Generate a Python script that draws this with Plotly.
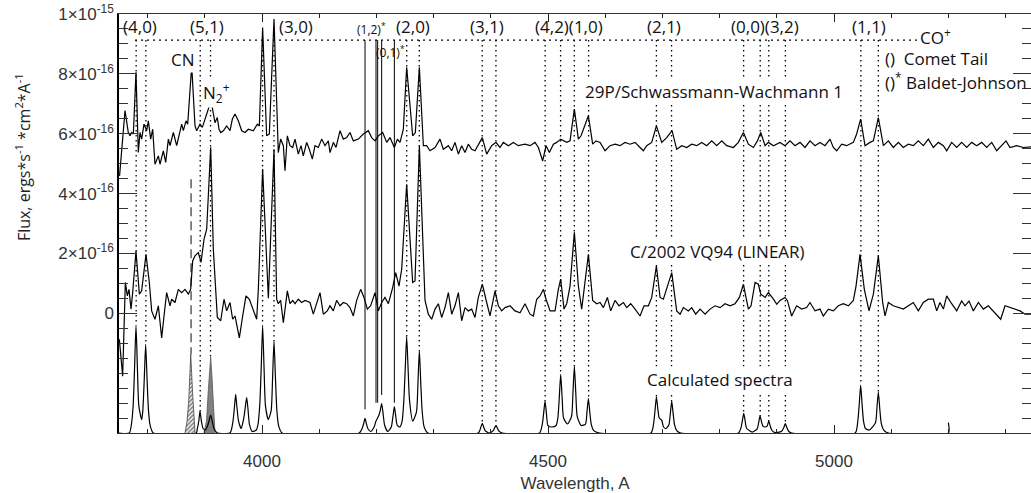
import plotly.graph_objects as go

# ---------------- data (flux in units of 1e-16 erg s^-1 cm^-2 A^-1) ----------------
spec_29p = [
    (3751, 4.59), (3760.5, 6.77), (3766.3, 6.04), (3769.2, 5.93), (3772.1, 6.04), (3775.1, 5.99),
    (3779.7, 8.05), (3783.8, 5.37), (3786.7, 6.04), (3789.6, 5.82), (3793.7, 6.32), (3798.4, 6.10),
    (3801.3, 6.43), (3805.4, 5.82), (3808.9, 6.15), (3812.9, 4.98), (3818.8, 5.26), (3821.7, 4.98),
    (3827.5, 5.43), (3831.6, 5.04), (3836.3, 5.82), (3839.2, 5.60), (3845.0, 6.04), (3850.8, 5.60),
    (3859.6, 6.32), (3862.5, 6.10), (3867.1, 6.43), (3870.1, 6.32), (3877.1, 8.27), (3882.9, 6.26),
    (3885.8, 6.10), (3891.6, 6.32), (3895.7, 6.21), (3900.4, 6.49), (3903.3, 6.71), (3910.9, 7.10),
    (3917.8, 6.37), (3921.9, 6.54), (3924.8, 6.15), (3927.8, 6.04), (3932.4, 6.10), (3938.2, 6.26),
    (3944.1, 6.10), (3948.2, 6.49), (3952.8, 6.66), (3958.6, 6.43), (3964.5, 6.10), (3970.3, 6.04),
    (3976.1, 6.15), (3984.9, 6.10), (3991.9, 6.32), (3995.4, 6.26), (4001.1, 9.55), (4008.1, 5.93),
    (4012.8, 5.99), (4021.0, 9.83), (4028.5, 5.37), (4032.6, 5.82), (4037.3, 5.60), (4040.2, 4.76),
    (4044.3, 5.93), (4048.9, 5.60), (4053.6, 5.54), (4057.7, 5.82), (4063.5, 5.32), (4068.2, 5.60),
    (4072.2, 5.26), (4078.1, 5.71), (4082.7, 5.48), (4088.0, 5.15), (4092.6, 5.60), (4098.5, 5.54),
    (4104.3, 5.82), (4110.1, 5.60), (4116.0, 5.76), (4118.9, 5.37), (4124.7, 5.71), (4129.4, 5.54),
    (4136.4, 6.10), (4142.2, 5.82), (4148.0, 5.87), (4153.8, 6.04), (4159.7, 5.76), (4168.4, 5.82),
    (4177.2, 5.99), (4185.9, 6.10), (4191.7, 5.87), (4197.6, 5.76), (4203.4, 5.93), (4211.0, 6.04),
    (4218.0, 5.71), (4223.8, 5.87), (4231.4, 5.54), (4236.6, 5.82), (4241.3, 5.71), (4247.1, 6.15),
    (4252.9, 8.22), (4263.4, 5.93), (4268.1, 6.04), (4275.1, 8.22), (4282.1, 5.60), (4287.9, 5.60),
    (4293.7, 5.43), (4302.5, 5.54), (4311.2, 5.82), (4317.0, 5.48), (4325.8, 5.60), (4331.6, 5.43),
    (4337.4, 5.71), (4343.3, 5.32), (4349.1, 5.60), (4354.9, 5.37), (4360.7, 5.65), (4366.6, 5.48),
    (4372.4, 5.43), (4378.2, 5.65), (4385.2, 5.87), (4392.8, 5.32), (4401.5, 5.60), (4409.1, 5.71),
    (4416.1, 5.54), (4421.9, 5.71), (4430.7, 5.60), (4439.4, 5.71), (4448.2, 5.60), (4459.8, 5.65),
    (4468.6, 5.60), (4477.3, 5.71), (4483.2, 5.54), (4490.7, 5.09), (4496.6, 5.60), (4502.4, 5.37),
    (4509.4, 5.65), (4515.2, 5.71), (4522.2, 5.82), (4532.7, 5.71), (4538.5, 5.76), (4546.1, 6.82),
    (4553.1, 5.82), (4557.8, 5.93), (4570.6, 6.60), (4578.1, 5.65), (4584.0, 5.76), (4591.0, 5.71),
    (4599.7, 5.43), (4608.5, 5.60), (4617.2, 5.65), (4626.0, 5.60), (4634.7, 5.71), (4643.4, 5.65),
    (4652.2, 5.71), (4660.9, 5.54), (4666.7, 5.43), (4672.6, 5.60), (4681.3, 5.71), (4689.5, 6.26),
    (4698.8, 5.71), (4707.5, 5.87), (4716.9, 6.10), (4725.0, 5.48), (4733.8, 5.60), (4742.5, 5.54),
    (4751.2, 5.65), (4760.0, 5.60), (4768.7, 5.71), (4777.5, 5.60), (4786.2, 5.76), (4795.0, 5.60),
    (4803.7, 5.76), (4812.4, 5.60), (4824.1, 5.54), (4832.8, 5.71), (4841.6, 6.04), (4850.3, 5.65),
    (4859.1, 5.54), (4866.1, 5.76), (4871.9, 6.04), (4879.5, 5.60), (4885.3, 5.71), (4894.1, 5.60),
    (4905.6, 5.71), (4914.3, 5.60), (4923.1, 5.76), (4931.8, 5.60), (4940.6, 5.71), (4949.3, 5.54),
    (4958.0, 5.76), (4966.8, 5.60), (4975.5, 5.71), (4984.3, 5.60), (4993.0, 5.82), (4998.8, 5.54),
    (5004.7, 5.43), (5013.4, 5.65), (5022.1, 5.60), (5033.8, 5.71), (5039.6, 5.99), (5046.6, 6.49),
    (5054.2, 5.60), (5062.9, 5.71), (5068.8, 5.76), (5077.5, 6.54), (5086.3, 5.60), (5095.0, 5.76),
    (5103.7, 5.54), (5112.5, 5.71), (5121.2, 5.54), (5130.0, 5.65), (5138.7, 5.60), (5147.4, 5.76),
    (5156.2, 5.60), (5164.9, 5.82), (5173.7, 5.54), (5182.4, 5.71), (5191.2, 5.60), (5197.0, 5.43),
    (5205.7, 5.71), (5214.5, 5.54), (5223.2, 5.71), (5232.0, 5.54), (5240.7, 5.71), (5249.5, 5.60),
    (5258.2, 5.71), (5266.9, 5.54), (5275.7, 5.71), (5284.4, 5.43), (5293.2, 5.60), (5300.7, 5.76),
    (5307.7, 5.54), (5319.4, 5.60), (5331.0, 5.54), (5344.4, 5.56),
]

spec_vq94 = [
    (3750.6, -0.87), (3756.4, -2.10), (3761.1, 1.03), (3764.6, 0.58), (3767.5, 0.80), (3771.0, 0.14),
    (3773.9, 0.69), (3779.7, 2.08), (3785.6, 0.64), (3789.6, 0.75), (3797.2, 1.97), (3803.0, 1.03),
    (3807.1, 0.08), (3812.9, -0.20), (3818.8, 0.25), (3824.6, -0.82), (3828.7, -0.09), (3833.3, 0.69),
    (3839.2, 0.25), (3842.1, 0.47), (3847.9, 0.36), (3853.7, 0.80), (3859.6, 0.69), (3865.4, 0.80),
    (3871.2, 0.64), (3875.3, 0.80), (3878.8, 1.75), (3882.9, 1.92), (3888.7, 2.03), (3893.4, 1.70),
    (3898.6, 2.47), (3903.3, 2.81), (3910.3, 5.55), (3914.9, 2.14), (3921.9, -0.14), (3927.8, -0.25),
    (3933.6, 0.47), (3938.2, 0.08), (3944.1, 0.36), (3948.7, -0.20), (3952.8, -0.09), (3960.4, -0.82),
    (3966.2, -0.09), (3972.0, 0.58), (3977.9, 0.47), (3984.9, 0.08), (3990.7, -0.20), (3993.6, 0.80),
    (4001.1, 4.82), (4011.1, 0.50), (4021.0, 5.48), (4025.6, 0.47), (4028.5, 0.32), (4032.6, 0.43),
    (4037.3, -0.31), (4044.3, 0.75), (4048.9, 0.32), (4053.6, 0.43), (4057.7, 0.32), (4063.5, 0.47),
    (4069.3, 0.36), (4075.2, 0.43), (4083.9, 0.36), (4089.7, -0.03), (4095.6, 0.32), (4101.4, 0.69),
    (4107.2, -0.03), (4114.2, 0.08), (4118.9, 0.25), (4124.7, 0.08), (4130.5, 0.43), (4136.4, 0.25),
    (4142.2, 0.36), (4148.0, 0.32), (4153.8, 0.19), (4159.7, -0.09), (4165.5, 0.43), (4172.5, 0.80),
    (4178.3, 0.53), (4184.2, 0.14), (4190.0, 0.25), (4197.6, 0.69), (4203.4, 0.08), (4209.2, 0.36),
    (4215.0, 0.53), (4220.9, 0.32), (4228.4, 0.86), (4233.7, 1.36), (4239.5, 0.91), (4244.2, 1.47),
    (4252.9, 4.31), (4263.4, 1.03), (4267.5, 1.08), (4275.1, 5.59), (4285.0, 0.43), (4290.8, -0.03),
    (4296.6, -0.20), (4302.5, 0.14), (4308.3, 0.32), (4314.1, -0.14), (4319.9, 0.19), (4325.8, 0.69),
    (4331.6, -0.03), (4337.4, 0.25), (4343.3, 0.69), (4349.1, -0.25), (4354.9, 0.19), (4360.7, 0.08),
    (4366.6, 0.14), (4372.4, -0.14), (4378.2, 0.53), (4385.2, 0.97), (4392.8, 0.36), (4398.6, -0.09),
    (4407.4, 0.75), (4413.2, 0.25), (4419.0, 0.08), (4424.9, 0.19), (4433.6, 0.25), (4442.3, 0.08),
    (4451.1, 0.02), (4459.8, 0.32), (4468.6, -0.03), (4474.4, -0.09), (4480.2, 0.47), (4486.1, 0.58),
    (4491.9, 0.80), (4496.6, 0.47), (4503.6, 0.08), (4512.3, 0.08), (4518.1, 0.80), (4522.2, 1.14),
    (4528.0, 0.14), (4532.7, 0.32), (4538.5, 0.91), (4546.1, 2.71), (4553.1, 0.91), (4558.9, 0.14),
    (4570.6, 1.97), (4578.1, 0.43), (4585.1, 0.32), (4591.0, 0.36), (4596.8, 0.19), (4603.8, 0.53),
    (4609.6, 0.08), (4617.2, 0.43), (4624.2, 0.25), (4631.8, 0.36), (4637.6, 0.19), (4644.6, 0.32),
    (4652.2, 0.14), (4660.9, -0.09), (4667.9, 0.25), (4675.5, 0.25), (4681.3, 0.53), (4689.5, 1.58),
    (4695.9, 0.53), (4701.7, 0.47), (4716.3, 1.36), (4725.0, 0.08), (4730.9, -0.03), (4736.7, 0.19),
    (4745.4, 0.08), (4751.2, 0.19), (4758.2, -0.03), (4765.8, 0.14), (4774.6, -0.03), (4783.3, 0.14),
    (4792.0, 0.25), (4800.8, 0.19), (4809.5, 0.32), (4818.3, 0.25), (4827.0, 0.32), (4834.6, 0.53),
    (4841.6, 0.97), (4850.3, 0.14), (4855.0, 0.25), (4862.0, 1.03), (4867.8, 0.97), (4871.9, 0.64),
    (4879.5, 0.53), (4885.3, 0.69), (4894.1, 0.47), (4900.0, 0.30), (4905.6, 0.43), (4914.3, 0.53),
    (4918.4, 0.43), (4926.0, -0.09), (4934.7, 0.25), (4943.5, 0.14), (4952.2, 0.19), (4958.0, 0.36),
    (4966.8, 0.08), (4975.5, 0.14), (4981.3, -0.09), (4990.1, 0.14), (4998.8, 0.08), (5007.6, 0.25),
    (5016.3, 0.32), (5025.1, 0.25), (5033.8, 0.43), (5038.5, 0.91), (5045.5, 1.97), (5053.0, 0.80),
    (5061.2, 0.08), (5068.8, 0.64), (5077.5, 1.92), (5085.1, 0.36), (5089.2, -0.09), (5095.0, 0.36),
    (5103.7, 0.25), (5112.5, 0.19), (5121.2, 0.14), (5130.0, 0.25), (5138.7, 0.36), (5147.4, 0.08),
    (5156.2, 0.36), (5164.9, 0.47), (5173.7, 0.47), (5179.5, 0.08), (5185.3, 0.36), (5191.2, 0.14),
    (5197.0, 0.58), (5205.7, 0.32), (5214.5, 0.08), (5223.2, 0.41), (5229.0, 0.25), (5236.0, 0.41),
    (5243.6, 0.08), (5252.4, 0.36), (5261.1, 0.14), (5269.8, 0.25), (5278.6, 0.08), (5284.4, -0.03),
    (5291.4, -0.20), (5299.0, 0.25), (5307.7, 0.19), (5316.5, 0.14), (5325.2, 0.08), (5334.0, -0.03),
    (5344.4, -0.03),
]

spec_calc = [
    (3750, -4.0), (3768, -4.0), (3771.7, -3.71), (3774.7, -3.1), (3777.2, -1.84), (3779.7, -0.40),
    (3782.2, -1.84), (3784.7, -3.1), (3789.6, -3.55), (3791.6, -3.26), (3794.1, -2.22), (3796.6, -1.04),
    (3799.1, -2.22), (3801.6, -3.26), (3804.6, -3.76), (3810, -4.0), (3885, -4.0), (3887, -3.85),
    (3889.5, -3.6), (3891.6, -3.27), (3894, -3.6), (3897, -3.85), (3901, -3.9), (3905, -3.75),
    (3908, -3.55), (3910.3, -3.40), (3913, -3.6), (3916, -3.85), (3922, -4.0), (3944, -4.0),
    (3947, -3.85), (3950, -3.5), (3952, -3.1), (3954, -2.71), (3956, -3.1), (3959, -3.6),
    (3963.6, -3.85), (3966, -3.7), (3969, -3.4), (3971, -3.1), (3973.2, -2.82), (3975.5, -3.2),
    (3978, -3.7), (3983, -3.95), (3990, -3.9), (3993, -3.71), (3996, -3.1), (3998.6, -1.84),
    (4001.1, -0.40), (4003.6, -1.84), (4006.1, -3.1), (4011, -3.55), (4016, -3.25), (4018.5, -2.16),
    (4021, -0.93), (4023.5, -2.16), (4026, -3.25), (4029, -3.75), (4035, -4.0), (4170, -4.0),
    (4175, -3.85), (4177.6, -3.7), (4180.1, -3.51), (4182.6, -3.7), (4185, -3.85), (4190, -3.95),
    (4196, -3.8), (4199.3, -3.6), (4202, -3.5), (4204.5, -3.4), (4206.7, -3.25), (4209.2, -3.02),
    (4211.7, -3.35), (4214.5, -3.75), (4220, -3.95), (4226, -3.8), (4228.9, -3.45), (4231.4, -3.12),
    (4233.9, -3.45), (4236.5, -3.75), (4241, -3.8), (4245, -3.6), (4248, -2.9), (4250.4, -1.85),
    (4252.9, -0.78), (4255.4, -1.85), (4257.9, -2.9), (4263.5, -3.6), (4270, -3.3), (4272.6, -2.35),
    (4275.1, -1.24), (4277.6, -2.35), (4280.1, -3.3), (4283.5, -3.8), (4290, -4.0), (4378, -4.0),
    (4381, -3.9), (4383, -3.78), (4385.2, -3.68), (4387.5, -3.8), (4390, -3.92), (4397, -4.0),
    (4404, -3.92), (4406.6, -3.83), (4409.1, -3.75), (4411.6, -3.84), (4414, -3.93), (4420, -4.0),
    (4485, -4.0), (4489.8, -3.73), (4492.3, -3.36), (4494.8, -2.93), (4497.3, -3.36), (4500, -3.75),
    (4507, -3.8), (4514, -3.75), (4517.2, -3.5), (4519.7, -2.82), (4522.2, -2.04), (4524.7, -2.82),
    (4527.2, -3.5), (4534, -3.7), (4541.1, -3.45), (4543.6, -2.67), (4546.1, -1.78), (4548.6, -2.67),
    (4551.1, -3.45), (4558, -3.75), (4565.6, -3.7), (4568.1, -3.31), (4570.6, -2.85), (4573.1, -3.31),
    (4575.6, -3.7), (4580, -3.92), (4590, -4.0), (4680, -4.0), (4684.5, -3.7), (4687, -3.27),
    (4689.5, -2.79), (4692, -3.2), (4694.5, -3.5), (4698.8, -3.58), (4702, -3.8), (4706, -3.85),
    (4711.3, -3.73), (4713.8, -3.36), (4716.3, -2.93), (4718.8, -3.36), (4721.3, -3.73), (4725, -3.92),
    (4732, -4.0), (4833, -4.0), (4837.2, -3.84), (4839.7, -3.6), (4842.2, -3.34), (4844.7, -3.6),
    (4847.2, -3.84), (4857, -3.97), (4865.7, -3.86), (4868.2, -3.66), (4870.7, -3.43), (4873.2, -3.62),
    (4876, -3.78), (4879, -3.8), (4883.4, -3.76), (4885.9, -3.60), (4888.4, -3.76), (4891, -3.9),
    (4896, -3.98), (4908, -3.95), (4912.4, -3.81), (4914.9, -3.69), (4917.4, -3.81), (4921, -3.95),
    (4926, -4.0), (5037, -4.0), (5041.6, -3.6), (5044.1, -3.04), (5046.6, -2.40), (5049.1, -3.04),
    (5051.6, -3.6), (5055, -3.85), (5062, -3.9), (5072.5, -3.66), (5075, -3.18), (5077.5, -2.63),
    (5080, -3.18), (5082.5, -3.66), (5087, -3.9), (5095, -4.0), (5200, -4.0), (5200, -3.65),
]

# N2+ (filled grey) and CN (hatched) contributions to the calculated spectrum
n2p_band = [(3898.6, -4.0), (3903, -3.6), (3906.2, -2.54), (3908.5, -1.9), (3910.3, -1.47),
            (3912.5, -2.1), (3915, -2.88), (3917.8, -4.0)]
cn_band = [(3865.4, -4.0), (3869, -3.6), (3872, -2.9), (3875.4, -1.37), (3878.5, -2.6), (3882.9, -4.0)]

# CO+ comet-tail band positions (dotted markers) and the calculated peak each one reaches
co_band_wl = [3780, 3797, 3892, 3910, 4001, 4021, 4253, 4275, 4385, 4409, 4495, 4522,
              4546, 4571, 4689.5, 4716, 4842, 4871, 4886, 4915, 5047, 5077.5]
co_band_bottom = [-0.40, -1.04, -3.27, -1.47, -0.40, -0.93, -0.78, -1.24, -3.68, -3.75, -2.93, -2.04,
                  -1.78, -2.85, -2.79, -2.93, -3.34, -3.43, -3.60, -3.69, -2.40, -2.63]
# Baldet-Johnson band positions (solid markers)
bj_band_wl = [4180.1, 4199.3, 4202.2, 4209.2, 4231.4]
bj_band_bottom = [-3.21, -2.99, -2.99, -2.73, -2.99]
marker_top = 9.13
marker_left, marker_right = 3778, 5145
cn_wl, cn_top, cn_bottom = 3876, 4.48, -1.37

band_labels = ["(4,0)", "(5,1)", "(3,0)", "(2,0)", "(3,1)", "(4,2)(1,0)", "(2,1)", "(0,0)(3,2)", "(1,1)"]
band_label_wl = [3786.7, 3903, 4059.5, 4264.5, 4393.4, 4536.7, 4702.8, 4879.4, 5060.7]

y_major = [-4, -2, 0, 2, 4, 6, 8, 10]
y_major_text = ["", "", "0", "2×10<sup>-16</sup>", "4×10<sup>-16</sup>", "6×10<sup>-16</sup>",
                "8×10<sup>-16</sup>", "1×10<sup>-15</sup>"]
x_major = [4000, 4500, 5000]

# ---------------- figure ----------------
def unzip(pairs):
    return [p[0] for p in pairs], [p[1] for p in pairs]

def vsegs(xs, top, bottoms):
    X, Y = [], []
    for x, b in zip(xs, bottoms):
        X += [x, x, None]
        Y += [top, b, None]
    return X, Y

fig = go.Figure()

# marker lines
X, Y = vsegs(co_band_wl, marker_top, co_band_bottom)
fig.add_trace(go.Scatter(x=X, y=Y, mode="lines", line=dict(color="black", width=1.3, dash="1.5px,3.5px"),
                         hoverinfo="skip"))
fig.add_trace(go.Scatter(x=[marker_left, marker_right], y=[marker_top, marker_top], mode="lines",
                         line=dict(color="black", width=1.3, dash="2px,4px"), hoverinfo="skip"))
X, Y = vsegs(bj_band_wl, marker_top, bj_band_bottom)
fig.add_trace(go.Scatter(x=X, y=Y, mode="lines", line=dict(color="black", width=1), hoverinfo="skip"))
fig.add_trace(go.Scatter(x=[cn_wl, cn_wl], y=[cn_top, cn_bottom], mode="lines",
                         line=dict(color="#444", width=1.3, dash="9px,5px"), hoverinfo="skip"))

# filled band contributions
bx, by = unzip(n2p_band)
fig.add_trace(go.Scatter(x=bx, y=by, mode="lines", fill="toself", fillcolor="#808080",
                         line=dict(color="#555", width=0.8), hoverinfo="skip"))
bx, by = unzip(cn_band)
fig.add_trace(go.Scatter(x=bx, y=by, mode="lines", fill="toself",
                         fillpattern=dict(shape="/", fgcolor="#111", bgcolor="white", size=3, solidity=0.6),
                         line=dict(color="#444", width=0.8), hoverinfo="skip"))

# spectra
for pairs, shape in ((spec_29p, "linear"), (spec_vq94, "linear"), (spec_calc, "spline")):
    sx, sy = unzip(pairs)
    fig.add_trace(go.Scatter(x=sx, y=sy, mode="lines", line=dict(color="black", width=1.2, shape=shape,
                                                                  smoothing=0.6),
                             hoverinfo="skip"))

ann_font = dict(family="Open Sans", size=17, color="#111")
annotations = []
for t, w in zip(band_labels, band_label_wl):
    annotations.append(dict(x=w, y=9.57, text=t, showarrow=False, font=ann_font, xanchor="center", yanchor="middle"))
annotations += [
    dict(x=4192, y=9.5, text="(1,2)<sup>*</sup>", showarrow=False, font=dict(family="Open Sans", size=12, color="#111")),
    dict(x=4225.5, y=8.73, text="(0,1)<sup>*</sup>", showarrow=False, font=dict(family="Open Sans", size=12, color="#111")),
    dict(x=5176.6, y=9.25, text="CO<sup>+</sup>", showarrow=False, font=ann_font),
    dict(x=5085.7, y=8.5, text="()\u00a0\u00a0Comet Tail", showarrow=False, font=ann_font, xanchor="left"),
    dict(x=5085.7, y=7.75, text="()<sup>*</sup>\u00a0Baldet-Johnson", showarrow=False, font=ann_font, xanchor="left"),
    dict(x=3862.4, y=8.49, text="CN", showarrow=False, font=ann_font, bgcolor="white"),
    dict(x=3919.6, y=7.39, text="N<sub>2</sub><sup>+</sup>", showarrow=False, font=ann_font, bgcolor="white"),
    dict(x=4561.7, y=7.42, text="29P/Schwassmann-Wachmann 1", showarrow=False, font=ann_font,
         xanchor="left", bgcolor="white"),
    dict(x=4640.4, y=2.07, text="C/2002 VQ94 (LINEAR)", showarrow=False, font=ann_font,
         xanchor="left", bgcolor="white"),
    dict(x=4669.6, y=-2.21, text="Calculated spectra", showarrow=False, font=ann_font,
         xanchor="left", bgcolor="white"),
    dict(x=-0.105, xref="paper", y=0.659, yref="paper", textangle=-90, showarrow=False,
         xanchor="center", yanchor="middle",
         text="Flux, ergs*s<sup>-1</sup> *cm<sup>2</sup>*A<sup>-1</sup>",
         font=dict(family="Open Sans", size=16, color="#222")),
]

axis_font = dict(family="Liberation Sans, Arial", size=17, color="#333")
fig.update_layout(
    width=1031, height=493,
    margin=dict(l=119, r=0, t=14, b=60, autoexpand=False),
    paper_bgcolor="white", plot_bgcolor="white",
    showlegend=False,
    annotations=annotations,
    xaxis=dict(range=[3750, 5344.4], showgrid=False, zeroline=False, automargin=False,
               showline=True, linecolor="#333", linewidth=1, mirror="ticks",
               tickmode="array", tickvals=x_major, ticks="inside", ticklen=8, tickcolor="#222",
               tickfont=axis_font, ticklabelstandoff=13,
               minor=dict(tickvals=list(range(3800, 5301, 100)), ticks="inside", ticklen=4, tickcolor="#222"),
               title=dict(text="Wavelength, A", font=axis_font, standoff=9)),
    yaxis=dict(range=[-4.0, 10.0], showgrid=False, zeroline=False, automargin=False,
               showline=True, linecolor="black", linewidth=1.5, mirror="ticks",
               tickmode="array", tickvals=y_major, ticktext=y_major_text,
               ticks="inside", ticklen=18, tickcolor="#333", tickfont=axis_font,
               minor=dict(tickvals=[v / 2 for v in range(-8, 21)], ticks="inside", ticklen=9, tickcolor="#333")),
)

fig.write_html(
    "out.html",
    config={"displayModeBar": False},
    post_script="document.body.style.margin='0';document.body.style.padding='0';"
                "document.documentElement.style.overflow='hidden';document.body.style.overflow='hidden';",
)
